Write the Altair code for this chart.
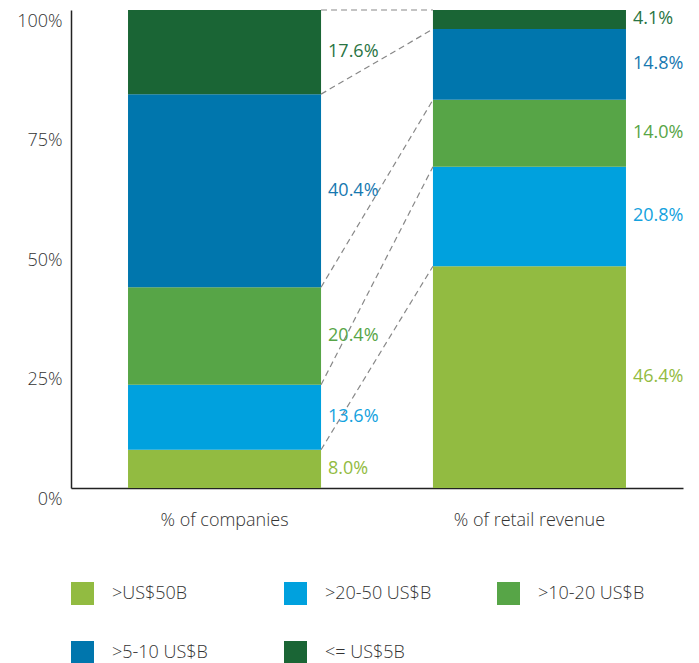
import altair as alt
import pandas as pd

cats = ["% of companies", "% of retail revenue"]
segments = [">US$50B", ">20-50 US$B", ">10-20 US$B", ">5-10 US$B", "<= US$5B"]
companies = [8.0, 13.6, 20.4, 40.4, 17.6]
revenue = [46.4, 20.8, 14.0, 14.8, 4.1]
colors = ["#92BB41", "#00A1DE", "#57A547", "#0076AD", "#1A6535"]
label_colors = ["#92BB41", "#14A2DE", "#57A547", "#1778B0", "#2A7444"]
y_ticks = [0, 25, 50, 75, 100]

rows = []
for cat, vals in zip(cats, [companies, revenue]):
    c = 0.0
    for seg, v in zip(segments, vals):
        rows.append({"cat": cat, "seg": seg, "v": v, "y0": c, "y1": c + v,
                     "mid": c + v / 2, "label": f"{v:.1f}%"})
        c += v
df = pd.DataFrame(rows)

conn = []
cl, cr = 0.0, 0.0
for seg, a, b in zip(segments, companies, revenue):
    cl += a
    cr += b
    conn.append({"from": cats[0], "to": cats[1], "ya": cl, "yb": cr, "seg": seg})
cdf = pd.DataFrame(conn)

FONT = "Open Sans"
FS = 18
xscale = alt.Scale(domain=cats, paddingInner=0.367, paddingOuter=0.187)
yscale = alt.Scale(domain=[0, 100], clamp=True, nice=False)
cscale = alt.Scale(domain=segments, range=colors)
lscale = alt.Scale(domain=segments, range=label_colors)

bars = alt.Chart(df).mark_bar().encode(
    x=alt.X("cat:N", scale=xscale, sort=cats, title=None,
            axis=alt.Axis(labelAngle=0, ticks=False, labelPadding=23, labelFontSize=FS,
                          labelColor="#333333", domainColor="#222222", labelFont=FONT,
                          labelFontWeight=300)),
    y=alt.Y("y0:Q", scale=yscale, title=None,
            axis=alt.Axis(values=y_ticks, labelExpr="datum.value + '%'", ticks=False, grid=False,
                          labelBaseline="top", labelOffset=2, labelPadding=9, labelFontSize=FS,
                          labelColor="#333333", domainColor="#222222", labelFont=FONT,
                          labelFontWeight=300)),
    y2="y1:Q",
    color=alt.Color("seg:N", scale=cscale, sort=segments, title=None,
                    legend=alt.Legend(orient="none", legendX=0, legendY=572, columns=3,
                                      direction="horizontal",
                                      symbolType="square", symbolSize=529,
                                      symbolStrokeWidth=0, symbolOpacity=1,
                                      labelFontSize=FS, labelColor="#333333", labelFont=FONT,
                                      labelFontWeight=300, gridAlign="all", columnPadding=65,
                                      rowPadding=36, labelOffset=18)),
)

rules = alt.Chart(cdf).mark_rule(strokeDash=[6, 4], color="#888888", strokeWidth=1.2).encode(
    x=alt.X("from:N", scale=xscale, bandPosition=1),
    x2=alt.X2("to:N", bandPosition=0),
    y=alt.Y("ya:Q", scale=yscale),
    y2="yb:Q",
)

labels = alt.Chart(df).mark_text(align="left", baseline="middle", dx=7, fontSize=FS,
                                 font=FONT, fontWeight=400).encode(
    x=alt.X("cat:N", scale=xscale, bandPosition=1),
    y=alt.Y("mid:Q", scale=yscale),
    text="label:N",
    color=alt.Color("seg:N", scale=lscale, legend=None),
)

chart = alt.layer(bars, rules, labels).resolve_scale(color="independent").properties(
    width=612, height=478, padding={"left": 8, "top": 1, "right": 5, "bottom": 5}
).configure_view(stroke=None).configure_axis(domainWidth=1.5)

chart.save("out.html", embed_options={"renderer": "svg", "actions": False})
